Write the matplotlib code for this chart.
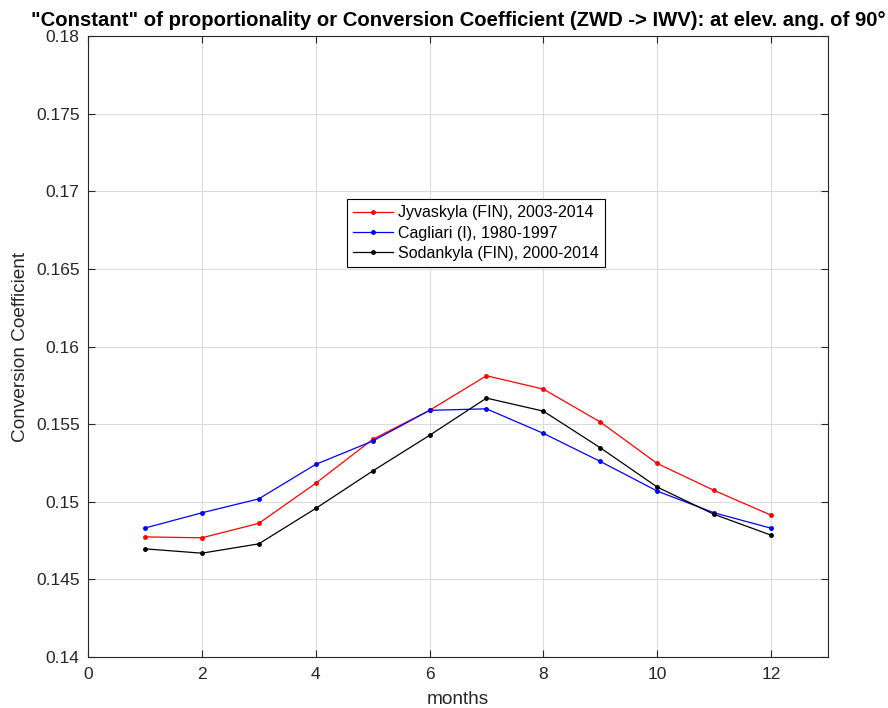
import numpy as np
import matplotlib.pyplot as plt

plt.rcParams['font.family'] = ['Liberation Sans', 'DejaVu Sans']

months = np.arange(1, 13)
jyvaskyla = [0.14774, 0.14768, 0.14861, 0.15119, 0.15402, 0.15589,
             0.15812, 0.15726, 0.15514, 0.15247, 0.15073, 0.14914]
cagliari = [0.14831, 0.14929, 0.15019, 0.15241, 0.15391, 0.15589,
            0.15599, 0.15441, 0.15260, 0.15069, 0.14929, 0.14830]
sodankyla = [0.14697, 0.14669, 0.14729, 0.14957, 0.15198, 0.15428,
             0.15668, 0.15584, 0.15348, 0.15095, 0.14919, 0.14785]

fig = plt.figure(figsize=(8.88, 7.08), dpi=100)
ax = fig.add_axes([0.0991, 0.072, 0.8333, 0.877])

ax.plot(months, jyvaskyla, color='red', marker='.', markersize=5, linewidth=0.9,
        label='Jyvaskyla (FIN), 2003-2014')
ax.plot(months, cagliari, color='blue', marker='.', markersize=5, linewidth=0.9,
        label='Cagliari (I), 1980-1997')
ax.plot(months, sodankyla, color='black', marker='.', markersize=5, linewidth=0.9,
        label='Sodankyla (FIN), 2000-2014')

ax.set_xlim(0, 13)
ax.set_ylim(0.14, 0.18)
ax.set_xticks(np.arange(0, 13, 2))
ax.set_yticks(np.arange(0.14, 0.1801, 0.005))
ax.set_yticklabels(['0.14', '0.145', '0.15', '0.155', '0.16', '0.165', '0.17', '0.175', '0.18'])
ax.grid(True, color='#dcdcdc', linewidth=0.8)
ax.set_axisbelow(True)
ax.tick_params(direction='in', top=True, right=True, labelsize=12.5, length=5, colors='#262626')
ax.tick_params(axis='y', pad=6)
ax.tick_params(axis='x', pad=7)
for s in ax.spines.values():
    s.set_linewidth(0.8)
    s.set_color('#262626')

ax.set_xlabel('months', fontsize=13.7, color='#262626', labelpad=7)
ax.set_ylabel('Conversion Coefficient', fontsize=13.7, color='#262626', labelpad=5)
ax.set_title('"Constant" of proportionality or Conversion Coefficient (ZWD -> IWV): at elev. ang. of 90°',
             fontsize=14.6, fontweight='bold', pad=7)

leg = ax.legend(loc='upper left', bbox_to_anchor=(0.35, 0.7375), borderaxespad=0,
                fontsize=11.5, fancybox=False, edgecolor='black', framealpha=1,
                handlelength=2.5, borderpad=0.4, labelspacing=0.33, handletextpad=0.3)
leg.get_frame().set_linewidth(0.8)

fig.savefig('out.png', dpi=100)
